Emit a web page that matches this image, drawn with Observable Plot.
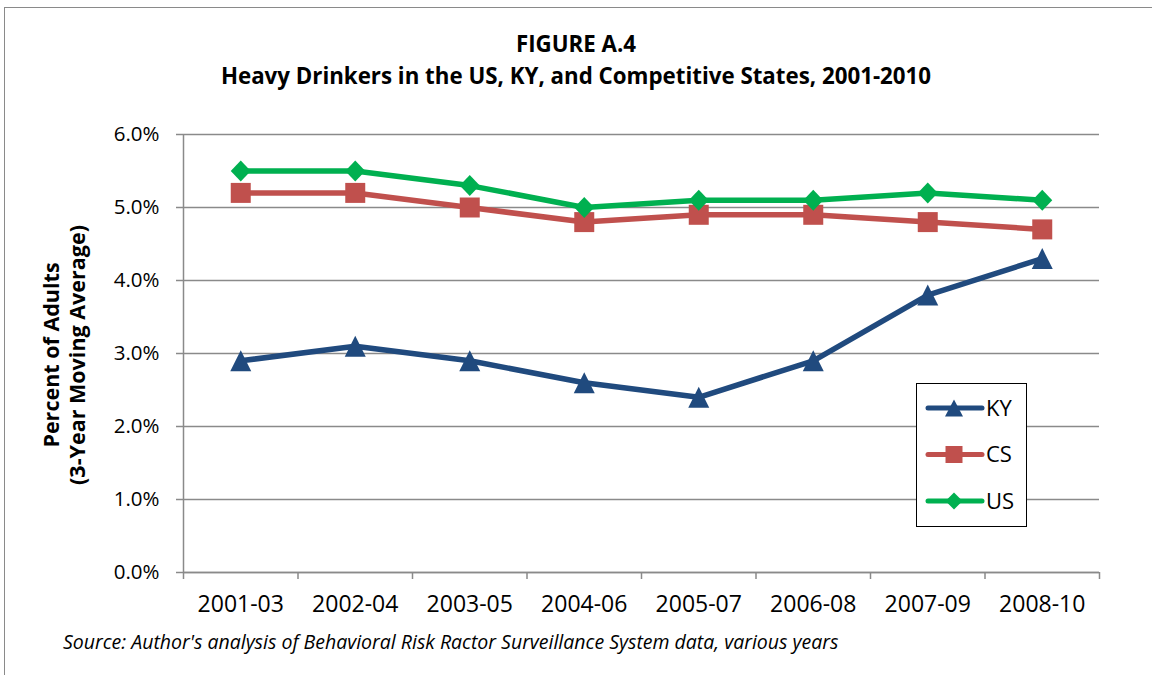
<!DOCTYPE html>
<html>
<head>
<meta charset="utf-8">
<script src="https://cdn.jsdelivr.net/npm/d3@7"></script>
<script src="https://cdn.jsdelivr.net/npm/@observablehq/plot@0.6"></script>
<style>
  body { margin: 0; background: #fff; font-family: "Open Sans", sans-serif; }
  #wrap { position: relative; width: 1152px; height: 675px; overflow: hidden; }
  #frame { position: absolute; left: 4px; top: 7px; width: 1200px; height: 700px; border-left: 1.5px solid #8a8a8a; border-top: 1.5px solid #8a8a8a; }
  #chart { position: absolute; left: 0; top: 0; }
  .t { position: absolute; white-space: nowrap; color: #000; }
  #title1, #title2 { left: 0; width: 1152px; text-align: center; font-weight: bold; font-size: 22.3px; line-height: 30px; }
  #title1 { top: 29px; }
  #title2 { top: 61px; }
  #caption { left: 63px; top: 628px; font-style: italic; font-size: 19.5px; line-height: 28px; }
  #ylab { left: 64px; top: 355px; transform: translate(-50%, -50%) rotate(-90deg); text-align: center; font-weight: bold; font-size: 21.5px; line-height: 26px; }
  #legend { position: absolute; left: 916px; top: 383px; width: 111px; height: 144px; border: 1.5px solid #000; background: #fff; box-sizing: border-box; }
  #legend svg { position: absolute; left: 0; top: 0; }
</style>
</head>
<body>
<div id="wrap">
  <div id="frame"></div>
  <div id="chart"></div>
  <div class="t" id="title1">FIGURE A.4</div>
  <div class="t" id="title2">Heavy Drinkers in the US, KY, and Competitive States, 2001-2010</div>
  <div class="t" id="ylab">Percent of Adults<br>(3-Year Moving Average)</div>
  <div class="t" id="caption">Source: Author's analysis of Behavioral Risk Ractor Surveillance System data, various years</div>
  <div id="legend"></div>
</div>
<script>
const periods = ["2001-03", "2002-04", "2003-05", "2004-06", "2005-07", "2006-08", "2007-09", "2008-10"];
const ky = [2.9, 3.1, 2.9, 2.6, 2.4, 2.9, 3.8, 4.3];
const cs = [5.2, 5.2, 5.0, 4.8, 4.9, 4.9, 4.8, 4.7];
const us = [5.5, 5.5, 5.3, 5.0, 5.1, 5.1, 5.2, 5.1];
const yTicks = [0, 1, 2, 3, 4, 5, 6];
const seriesNames = ["KY", "CS", "US"];
const seriesColors = ["#204a7e", "#c0504d", "#00b050"];

// marker shapes (fixed-size custom symbols)
function triangle(w, h) {
  return {draw(ctx) { ctx.moveTo(0, -h / 2); ctx.lineTo(w / 2, h / 2); ctx.lineTo(-w / 2, h / 2); ctx.closePath(); }};
}
function square(s) {
  return {draw(ctx) { ctx.rect(-s / 2, -s / 2, s, s); }};
}
function diamond(w, h) {
  return {draw(ctx) { ctx.moveTo(0, -h / 2); ctx.lineTo(w / 2, 0); ctx.lineTo(0, h / 2); ctx.lineTo(-w / 2, 0); ctx.closePath(); }};
}
const plotSymbols = [triangle(21, 21), square(20), diamond(20, 21)];
const legendSymbols = [triangle(18, 17), square(17), diamond(17, 17)];

const seriesValues = [ky, cs, us];
const data = [];
seriesNames.forEach((name, s) => {
  seriesValues[s].forEach((v, i) => data.push({series: name, idx: i + 0.5, value: v}));
});
const bandEdges = d3.range(0, periods.length + 1);
const bandCenters = periods.map((p, i) => i + 0.5);

const lineMarks = [];
[1, 2, 0].forEach(s => {
  const d = data.filter(r => r.series === seriesNames[s]);
  lineMarks.push(Plot.line(d, {x: "idx", y: "value", stroke: seriesColors[s], strokeWidth: 5.5}));
  lineMarks.push(Plot.dot(d, {x: "idx", y: "value", symbol: plotSymbols[s], fill: seriesColors[s], r: 10, stroke: "none"}));
});

const chart = Plot.plot({
  width: 1152,
  height: 675,
  marginLeft: 183,
  marginRight: 53,
  marginTop: 134,
  marginBottom: 103,
  style: {fontFamily: "Open Sans, sans-serif", color: "#000", background: "transparent"},
  x: {type: "linear", domain: [0, periods.length]},
  y: {domain: [0, 6]},
  marks: [
    Plot.gridY(yTicks, {stroke: "#8a8a8a", strokeOpacity: 1, strokeWidth: 1.5}),
    Plot.axisY(yTicks, {tickSize: 7, tickPadding: 17, stroke: "#8a8a8a", strokeWidth: 1.5, fontSize: 20.5, tickFormat: d => d.toFixed(1) + "%", label: null}),
    Plot.ruleX([0], {stroke: "#8a8a8a", strokeWidth: 1.5}),
    Plot.ruleY([0], {stroke: "#8a8a8a", strokeWidth: 1.5}),
    Plot.axisX(bandEdges, {tickSize: 7, stroke: "#8a8a8a", strokeWidth: 1.5, tickFormat: () => "", label: null}),
    Plot.axisX(bandCenters, {tickSize: 0, tickPadding: 23, fontSize: 23, tickFormat: d => periods[Math.round(d - 0.5)], label: null}),
    ...lineMarks
  ]
});
document.getElementById("chart").appendChild(chart);

// legend
const lg = d3.select("#legend").append("svg").attr("width", 111).attr("height", 144);
seriesNames.forEach((name, s) => {
  const y = 24 + s * 46.5;
  const g = lg.append("g").attr("transform", `translate(0,${y})`);
  g.append("line").attr("x1", 11).attr("x2", 65).attr("y1", 0).attr("y2", 0)
    .attr("stroke", seriesColors[s]).attr("stroke-width", 5).attr("stroke-linecap", "round");
  g.append("path").attr("transform", "translate(37,0)")
    .attr("d", d3.symbol(legendSymbols[s])())
    .attr("fill", seriesColors[s]);
  g.append("text").attr("x", 69).attr("y", 0).attr("dy", "0.35em")
    .attr("font-size", 22).attr("font-family", "Open Sans, sans-serif").text(name);
});
</script>
</body>
</html>
